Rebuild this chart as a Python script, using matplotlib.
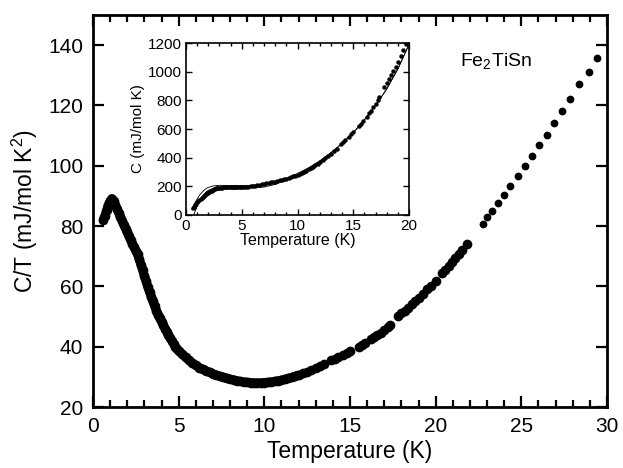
import matplotlib
matplotlib.use("Agg")
import matplotlib.pyplot as plt
from matplotlib.ticker import MultipleLocator

plt.rcParams['font.family'] = ['Liberation Sans', 'DejaVu Sans']
plt.rcParams['mathtext.fontset'] = 'custom'
plt.rcParams['mathtext.rm'] = 'Liberation Sans'

# C/T (mJ/mol K^2) vs T (K), dense low-temperature run
t_dense = [0.6, 0.7, 0.8, 0.9, 1.0, 1.1, 1.2, 1.3, 1.4, 1.5, 1.6, 1.7, 1.8, 1.9,
           2.0, 2.1, 2.2, 2.3, 2.4, 2.5, 2.6, 2.7, 2.8, 2.9, 3.0, 3.1, 3.2, 3.3,
           3.4, 3.5, 3.6, 3.7, 3.8, 3.9, 4.0, 4.1, 4.2, 4.3, 4.4, 4.5, 4.6, 4.7,
           4.8, 4.9, 5.0, 5.2, 5.4, 5.6, 5.8, 6.0, 6.2, 6.4, 6.6, 6.8, 7.0, 7.2,
           7.4, 7.6, 7.8, 8.0, 8.2, 8.4, 8.6, 8.8, 9.0, 9.2, 9.4, 9.6, 9.8, 10.0,
           10.2, 10.4, 10.6, 10.8, 11.0, 11.2, 11.4, 11.6, 11.8, 12.0, 12.25,
           12.5, 12.75, 13.0, 13.25, 13.5, 13.9, 14.1, 14.3, 14.6, 14.8, 15.0,
           15.5, 15.7, 15.9, 16.2, 16.4, 16.6, 16.8, 17.0, 17.2, 17.35, 17.8,
           18.0, 18.2, 18.4, 18.6, 18.8, 19.0, 19.25, 19.5, 19.75, 20.0, 20.35,
           20.55, 20.75, 20.95, 21.15, 21.35, 21.55, 21.8]
ct_dense = [82.0, 83.5, 85.3, 87.0, 88.3, 89.1, 88.3, 87.0, 85.7, 84.4, 83.1, 81.8,
            80.4, 79.2, 78.0, 76.6, 75.3, 74.2, 73.0, 71.8, 70.6, 69.0, 67.2, 65.4,
            63.5, 61.7, 59.8, 58.2, 56.6, 55.0, 53.5, 52.0, 50.6, 49.4, 48.3, 47.1,
            46.0, 45.0, 44.0, 43.0, 42.0, 41.0, 40.0, 39.3, 38.7, 37.6, 36.5, 35.5,
            34.6, 33.8, 33.1, 32.5, 32.0, 31.5, 31.0, 30.6, 30.2, 29.9, 29.5, 29.2,
            29.0, 28.7, 28.5, 28.3, 28.2, 28.1, 28.0, 28.0, 28.0, 28.1, 28.2, 28.3,
            28.5, 28.7, 28.9, 29.2, 29.5, 29.8, 30.2, 30.6, 31.2, 31.7, 32.3, 32.9,
            33.6, 34.2, 35.5, 36.0, 36.6, 37.4, 38.0, 38.6, 40.0, 40.6, 41.3, 42.4,
            43.2, 43.9, 44.7, 45.6, 46.5, 47.3, 50.2, 51.1, 52.0, 53.0, 54.0, 55.1,
            56.3, 57.6, 59.0, 60.3, 61.7, 64.3, 65.6, 66.8, 68.0, 69.3, 70.6, 72.0,
            74.2]

# sparse high-temperature run
t_sparse = [22.75, 23.02, 23.29, 23.66, 24.0, 24.36, 24.79, 25.2, 25.65, 26.06,
            26.49, 26.93, 27.4, 27.85, 28.37, 28.94, 29.44]
ct_sparse = [80.8, 83.0, 85.0, 87.6, 90.2, 93.2, 96.6, 99.8, 103.4, 106.9, 110.3,
             114.1, 118.1, 122.1, 127.0, 131.2, 135.9]

# inset: C (mJ/mol K) vs T, two model curves
t_fit = [0.5, 0.75, 1.0, 1.25, 1.5, 1.75, 2.0, 2.5, 3.0, 3.5, 4.0, 5.0, 6.0, 7.0,
         8.0, 9.0, 10.0, 11.0, 12.0, 13.0, 14.0, 15.0, 16.0, 17.0, 18.0, 19.0, 20.0]
c_fit_a = [40, 78, 112, 142, 165, 182, 193, 204, 207, 206, 205, 205, 208, 215,
           232, 256, 290, 330, 378, 435, 500, 575, 665, 765, 880, 1020, 1190]
t_fit_b = [0.7, 0.75, 1.0, 1.25, 1.5, 1.75, 2.0, 2.5, 3.0, 3.5, 4.0, 5.0, 6.0, 7.0,
           8.0, 9.0, 10.0, 11.0, 12.0, 13.0, 14.0, 15.0, 16.0, 17.0, 18.0, 19.0, 20.0]
c_fit_b = [0, 12, 62, 102, 133, 156, 172, 188, 195, 197, 196, 192, 190, 195,
           213, 244, 283, 326, 376, 433, 498, 573, 663, 763, 878, 1018, 1188]

fig = plt.figure(figsize=(6.23, 4.68), dpi=100)
ax = fig.add_axes([0.1493, 0.1303, 0.825, 0.8376])

# the low-T run is so dense it reads as a solid band up to ~12 K
n_band = t_dense.index(12.0) + 1
ax.plot(t_dense[:n_band], ct_dense[:n_band], '-', color='black', lw=6.6,
        solid_capstyle='round', solid_joinstyle='round')
ax.plot(t_dense, ct_dense, 'o', color='black', ms=7.0, mew=0)
ax.plot(t_sparse, ct_sparse, 'o', color='black', ms=5.6, mew=0)

ax.set_xlim(0, 30)
ax.set_ylim(20, 150)
ax.xaxis.set_major_locator(MultipleLocator(5))
ax.xaxis.set_minor_locator(MultipleLocator(1))
ax.set_yticks([20, 40, 60, 80, 100, 120, 140])
ax.tick_params(which='both', direction='in', top=True, right=True,
               labelsize=15, width=1.6, pad=7)
ax.tick_params(which='major', length=8)
ax.tick_params(which='minor', length=5)
for sp in ax.spines.values():
    sp.set_linewidth(2)
ax.set_xlabel('Temperature (K)', fontsize=16.5, labelpad=3)
ax.set_ylabel('C/T (mJ/mol K$^{2}$)', fontsize=16.5, labelpad=6)
ax.text(0.714, 0.88, 'Fe$_{2}$TiSn', transform=ax.transAxes, fontsize=14,
        va='center', ha='left')

# inset
ins = fig.add_axes([0.2986, 0.5406, 0.3579, 0.3675])
t_in = t_dense + t_sparse
c_in = [t * ct for t, ct in zip(t_in, ct_dense + ct_sparse)]
ins.plot(t_in, c_in, 'o', color='black', ms=3.2, mew=0)
ins.plot(t_fit, c_fit_a, '-', color='black', lw=0.6)
ins.plot(t_fit_b, c_fit_b, '-', color='black', lw=0.6)
ins.set_xlim(0, 20)
ins.set_ylim(0, 1200)
ins.xaxis.set_major_locator(MultipleLocator(5))
ins.xaxis.set_minor_locator(MultipleLocator(1))
ins.yaxis.set_major_locator(MultipleLocator(200))
ins.tick_params(which='both', direction='in', top=True, right=True,
                labelsize=11, width=1, pad=3)
ins.tick_params(which='major', length=4)
ins.tick_params(which='minor', length=2.5)
for sp in ins.spines.values():
    sp.set_linewidth(1.2)
ins.set_xlabel('Temperature (K)', fontsize=11.5, labelpad=0)
ins.set_ylabel('C (mJ/mol K)', fontsize=11, labelpad=2)

fig.savefig('out.png', dpi=100)
